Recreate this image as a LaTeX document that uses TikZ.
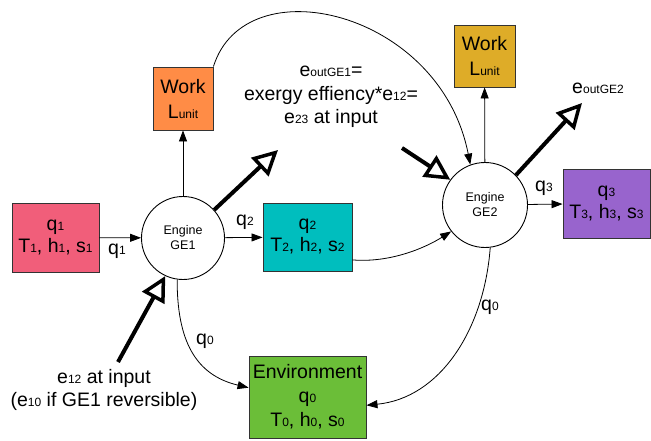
\documentclass[tikz,border=0pt]{standalone}
\usepackage{fontspec}
\setmainfont{Liberation Sans}
\usetikzlibrary{arrows.meta}

\definecolor{pinkbox}{RGB}{241,94,122}
\definecolor{orangebox}{RGB}{255,140,70}
\definecolor{tealbox}{RGB}{0,190,190}
\definecolor{goldbox}{RGB}{222,172,40}
\definecolor{purplebox}{RGB}{152,100,205}
\definecolor{greenbox}{RGB}{107,190,56}

% small index text sitting on the baseline, as in q1, L_unit
\newcommand\lo[1]{{\fontsize{12}{12}\selectfont #1}}

\tikzset{
  box/.style={draw=black!80, line width=0.9pt, inner sep=0pt, align=center,
    font=\fontsize{19.5}{22}\selectfont},
  engine/.style={circle, draw=black, line width=0.9pt, inner sep=0pt,
    align=center, fill=white, font=\fontsize{12.5}{15}\selectfont},
  lbl/.style={inner sep=0pt, align=center, font=\fontsize{19.5}{23.5}\selectfont},
  flow/.style={draw=black, line width=0.8pt, -{Triangle[length=11pt,width=8pt]}},
  bigarrow/.style={draw=black, line width=4pt,
    -{Triangle[open,length=25pt,width=25pt,line width=3.5pt]}}
}

\begin{document}
\begin{tikzpicture}[x=1pt,y=-1pt]
\useasboundingbox (0,0) rectangle (651,441);

% states and engines
\node[box, fill=pinkbox, minimum width=87pt, minimum height=69pt] (src) at (55.5,237.5)
  {q\lo{1}\\T\lo{1}, h\lo{1}, s\lo{1}};
\node[engine, minimum size=83pt] (ge1) at (183,238) {Engine\\GE1};
\node[box, fill=orangebox, minimum width=60pt, minimum height=63pt,
  font=\fontsize{19.5}{25}\selectfont] (work1) at (183,98.5) {Work\\L\lo{unit}};
\node[box, fill=tealbox, minimum width=89pt, minimum height=68pt] (hot2) at (307.5,237)
  {q\lo{2}\\T\lo{2}, h\lo{2}, s\lo{2}};
\node[engine, minimum size=85pt] (ge2) at (485,205) {Engine\\GE2};
\node[box, fill=goldbox, minimum width=61pt, minimum height=62pt,
  font=\fontsize{19.5}{25}\selectfont] (work2) at (484.5,56) {Work\\L\lo{unit}};
\node[box, fill=purplebox, minimum width=87pt, minimum height=69pt] (out3) at (606.5,203.5)
  {q\lo{3}\\T\lo{3}, h\lo{3}, s\lo{3}};
\node[box, fill=greenbox, minimum width=117pt, minimum height=82pt,
  font=\fontsize{19.5}{24}\selectfont] (env) at (307.5,397)
  {Environment\\q\lo{0}\\T\lo{0}, h\lo{0}, s\lo{0}};

% free labels
\node[lbl] (effnote) at (331,97)
  {e\lo{outGE1}=\\exergy effiency*e\lo{12}=\\e\lo{23} at input};
\node[lbl] (eout2) at (598,88) {e\lo{outGE2}};
\node[lbl] (ein1) at (104,390) {e\lo{12} at input\\(e\lo{10} if GE1 reversible)};
\node[lbl] (lq1) at (117,251) {q\lo{1}};
\node[lbl] (lq2) at (245,222) {q\lo{2}};
\node[lbl] (lq3) at (544,188) {q\lo{3}};
\node[lbl] (lq0a) at (205,341) {q\lo{0}};
\node[lbl] (lq0b) at (490,307) {q\lo{0}};

% heat and work flows
\draw[flow] (src) -- (ge1);
\draw[flow] (ge1) -- (work1);
\draw[flow] (ge1) -- (hot2);
\draw[flow] (ge2) -- (work2);
\draw[flow] (ge2) -- (out3);
\draw[flow] (ge1.-98) .. controls (177,340) and (195,375) .. (env.171);
\draw[flow] (ge2.-83) .. controls (484,330) and (440,398) .. (env.-8);
\draw[flow] (hot2.-27) .. controls (390,263) and (425,248) .. (ge2.218);
\draw[flow] (work1.north east) .. controls (245,-35) and (440,10) .. (ge2.110);

% exergy flows
\coordinate (tipA) at (278,150);
\coordinate (tailB) at (118,362);
\coordinate (tailC) at (402,148);
\coordinate (tipD) at (582,103);
\draw[bigarrow] (ge1.42) -- (tipA);
\draw[bigarrow] (tailB) -- (ge1.-115);
\draw[bigarrow] (tailC) -- (ge2.144);
\draw[bigarrow] (ge2.44) -- (tipD);
\end{tikzpicture}
\end{document}
